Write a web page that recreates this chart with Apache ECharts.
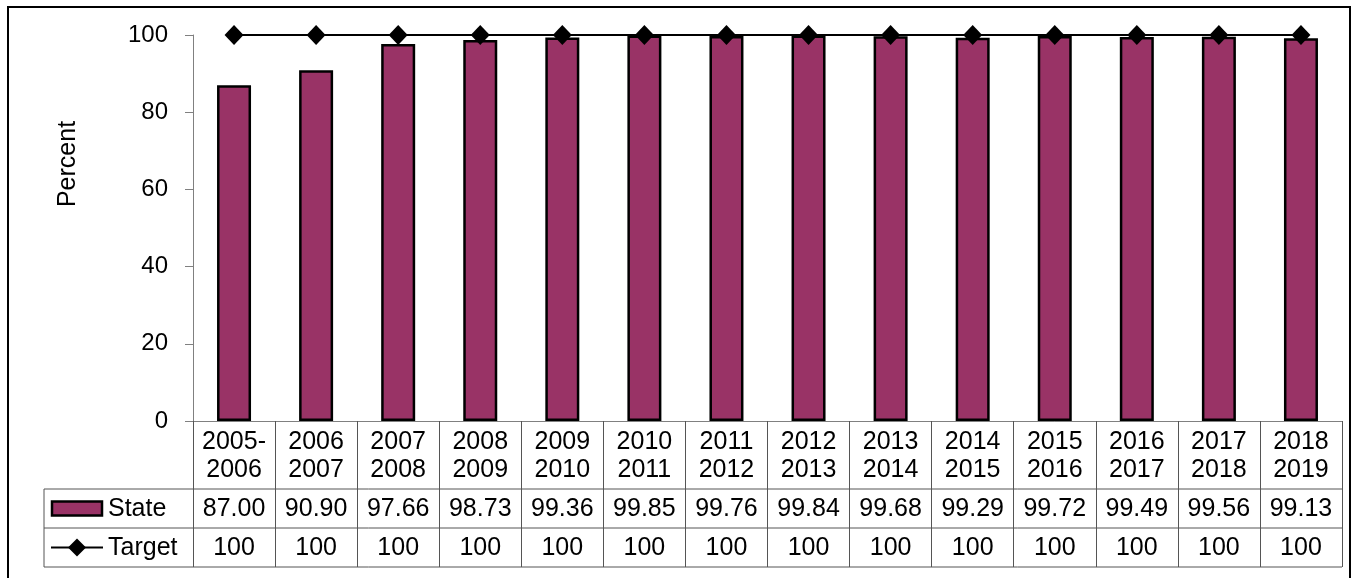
<!DOCTYPE html>
<html>
<head>
<meta charset="utf-8">
<script src="https://cdn.jsdelivr.net/npm/echarts@6/dist/echarts.min.js"></script>
<style>
html,body{margin:0;padding:0;background:#fff;}
#chart{width:1353px;height:578px;}
</style>
</head>
<body>
<div id="chart"></div>
<script>
var categories = ['2005-\n2006','2006\n2007','2007\n2008','2008\n2009','2009\n2010','2010\n2011','2011\n2012','2012\n2013','2013\n2014','2014\n2015','2015\n2016','2016\n2017','2017\n2018','2018\n2019'];
var stateValues = [87.00, 90.90, 97.66, 98.73, 99.36, 99.85, 99.76, 99.84, 99.68, 99.29, 99.72, 99.49, 99.56, 99.13];
var targetValues = [100,100,100,100,100,100,100,100,100,100,100,100,100,100];
var yTicks = [0, 20, 40, 60, 80, 100];

var FONT = '"Liberation Sans", Arial, sans-serif';
var PLUM = '#993366';
var GRID_LINE = '#555555';

var chart = echarts.init(document.getElementById('chart'), null, {renderer: 'canvas'});

var option = {
  animation: false,
  backgroundColor: '#fff',
  grid: {left: 193, right: 11, top: 35, bottom: 157, containLabel: false},
  xAxis: {
    type: 'category',
    data: categories,
    boundaryGap: true,
    axisLine: {show: true, lineStyle: {color: '#808080', width: 1}},
    axisTick: {show: true, alignWithLabel: false, length: 146, lineStyle: {color: GRID_LINE, width: 1}},
    axisLabel: {show: false},
    splitLine: {show: false}
  },
  yAxis: {
    type: 'value',
    min: yTicks[0],
    max: yTicks[yTicks.length - 1],
    interval: 20,
    axisLine: {show: true, lineStyle: {color: '#808080', width: 1}},
    axisTick: {show: true, inside: false, length: 8, lineStyle: {color: '#808080'}},
    axisLabel: {fontFamily: FONT, fontSize: 24, color: '#000', margin: 25},
    splitLine: {show: false}
  },
  series: [
    {
      name: 'State',
      type: 'bar',
      data: stateValues,
      barWidth: 34,
      itemStyle: {color: PLUM, borderColor: '#000', borderWidth: 2.5},
      z: 2
    },
    {
      name: 'Target',
      type: 'line',
      data: targetValues,
      symbol: 'diamond',
      symbolSize: [19, 20],
      lineStyle: {color: '#000', width: 2},
      itemStyle: {color: '#000'},
      z: 3
    }
  ]
};
chart.setOption(option);

var axisY = chart.convertToPixel({yAxisIndex: 0}, 0);
var leftX = chart.convertToPixel({xAxisIndex: 0}, 0);
var step = chart.convertToPixel({xAxisIndex: 0}, 1) - leftX;
var plotRight = chart.convertToPixel({xAxisIndex: 0}, categories.length - 1) + step / 2;
var rowCat = axisY + 68;
var rowState = rowCat + 39;
var rowTarget = rowState + 39;
var tableLeft = 44;
var TF = '25px ' + FONT;

var g = [];
g.push({type: 'rect', shape: {x: 8, y: 7, width: 1342, height: 640}, style: {fill: null, stroke: '#000', lineWidth: 2}, z: 0});
[rowCat, rowState, rowTarget].forEach(function (y) {
  g.push({type: 'line', shape: {x1: tableLeft, y1: y, x2: plotRight, y2: y}, style: {stroke: GRID_LINE, lineWidth: 1}});
});
g.push({type: 'line', shape: {x1: tableLeft, y1: rowCat, x2: tableLeft, y2: rowTarget}, style: {stroke: GRID_LINE, lineWidth: 1}});

categories.forEach(function (c, i) {
  var cx = chart.convertToPixel({xAxisIndex: 0}, i);
  g.push({type: 'text', x: cx, y: (axisY + rowCat) / 2 + 1, style: {text: c, font: TF, fill: '#000', align: 'center', verticalAlign: 'middle', lineHeight: 28}});
  g.push({type: 'text', x: cx, y: (rowCat + rowState) / 2 + 1, style: {text: stateValues[i].toFixed(2), font: TF, fill: '#000', align: 'center', verticalAlign: 'middle'}});
  g.push({type: 'text', x: cx, y: (rowState + rowTarget) / 2 + 1, style: {text: String(targetValues[i]), font: TF, fill: '#000', align: 'center', verticalAlign: 'middle'}});
});

var sy = (rowCat + rowState) / 2;
g.push({type: 'rect', shape: {x: 52, y: sy - 7, width: 50, height: 14}, style: {fill: PLUM, stroke: '#000', lineWidth: 2.5}});
g.push({type: 'text', x: 108, y: sy + 1, style: {text: 'State', font: TF, fill: '#000', align: 'left', verticalAlign: 'middle'}});
var ty = (rowState + rowTarget) / 2;
g.push({type: 'line', shape: {x1: 51, y1: ty, x2: 103, y2: ty}, style: {stroke: '#000', lineWidth: 2}});
g.push({type: 'polygon', shape: {points: [[77, ty - 9], [86, ty], [77, ty + 9], [68, ty]]}, style: {fill: '#000'}});
g.push({type: 'text', x: 108, y: ty + 1, style: {text: 'Target', font: TF, fill: '#000', align: 'left', verticalAlign: 'middle'}});

g.push({type: 'text', x: 68, y: 164, rotation: Math.PI / 2, style: {text: 'Percent', font: '25px ' + FONT, fill: '#000', align: 'center', verticalAlign: 'middle'}});

chart.setOption({graphic: {elements: g}});
</script>
</body>
</html>
